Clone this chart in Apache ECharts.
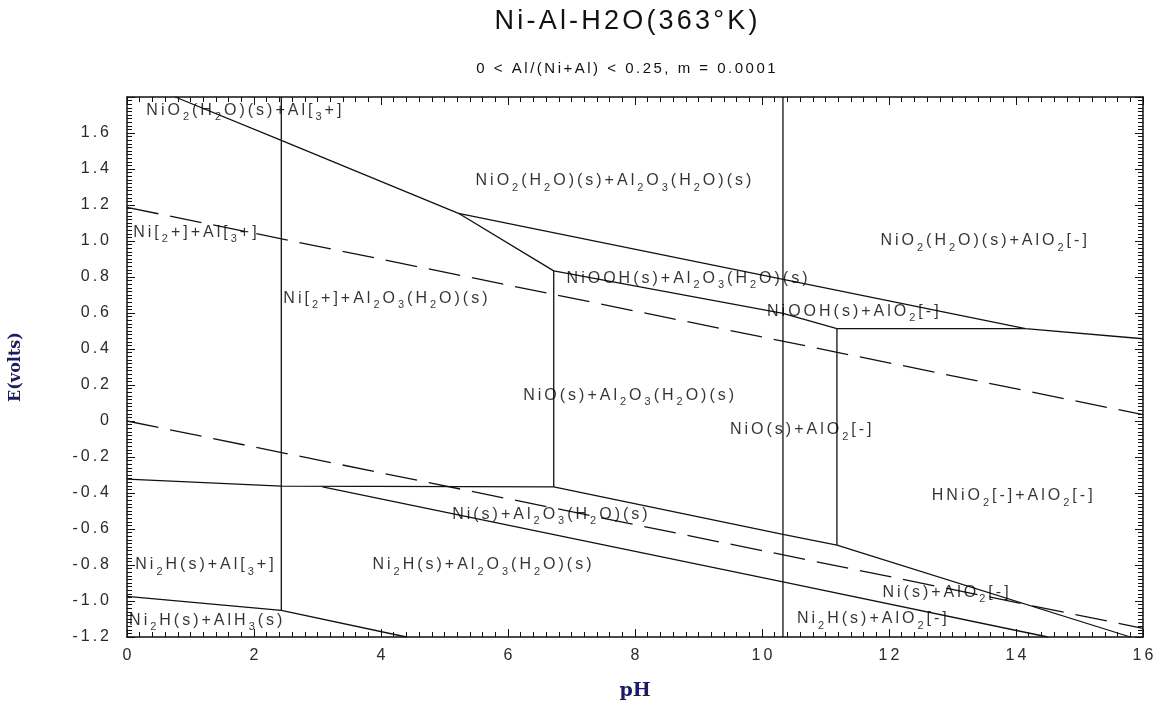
<!DOCTYPE html>
<html><head><meta charset="utf-8">
<script src="https://cdn.jsdelivr.net/npm/echarts@6/dist/echarts.min.js"></script>
<style>html,body{margin:0;padding:0;background:#fff}#c{width:1161px;height:706px}</style>
</head><body><div id="c"></div>
<script>
// ---------- DATA ----------
const titleText = 'Ni-Al-H2O(363°K)';
const subtitleText = '0 < Al/(Ni+Al) < 0.25, m = 0.0001';
const xAxisName = 'pH';
const yAxisName = 'E(volts)';
const xMin = 0, xMax = 16, xStep = 2;
const yMin = -1.2, yMax = 1.8, yStep = 0.2;

// solid phase boundaries [pH, E]
const vertAl3 = [[2.43, 1.8], [2.43, -1.05]];
const vertAlO2 = [[10.33, 1.8], [10.33, -1.2]];
const vertNiO = [[6.72, 0.834], [6.72, -0.366]];
const vertHNiO2 = [[11.18, 0.513], [11.18, -0.689]];
const lineNiO2Upper = [[0.76, 1.8], [2.43, 1.559], [5.22, 1.154], [6.72, 0.834]];
const lineNiO2Right = [[5.22, 1.154], [14.15, 0.513], [16, 0.457]];
const lineNiOOHLower = [[6.72, 0.834], [10.33, 0.598], [11.18, 0.513]];
const lineNiOOHFlat = [[11.18, 0.513], [14.15, 0.513]];
const lineNi2Plus = [[0, -0.323], [2.43, -0.362], [6.72, -0.366]];
const lineNi2H = [[3.08, -0.366], [10.33, -0.894], [14.5, -1.2]];
const lineNiLower = [[6.72, -0.366], [10.33, -0.630], [11.18, -0.689], [15.8, -1.2]];
const lineAlH3 = [[0, -0.974], [2.43, -1.052], [4.4, -1.2]];
// water stability lines (dashed)
const waterUpper = [[0, 1.187], [16, 0.035]];
const waterLower = [[0, 0], [16, -1.152]];

// region labels ('_' marks a subscript character) and their [pH, E] centres
const regionLabels = [
  'NiO_2(H_2O)(s)+Al[_3+]',
  'NiO_2(H_2O)(s)+Al_2O_3(H_2O)(s)',
  'NiO_2(H_2O)(s)+AlO_2[-]',
  'Ni[_2+]+Al[_3+]',
  'Ni[_2+]+Al_2O_3(H_2O)(s)',
  'NiOOH(s)+Al_2O_3(H_2O)(s)',
  'NiOOH(s)+AlO_2[-]',
  'NiO(s)+Al_2O_3(H_2O)(s)',
  'NiO(s)+AlO_2[-]',
  'HNiO_2[-]+AlO_2[-]',
  'Ni(s)+Al_2O_3(H_2O)(s)',
  'Ni_2H(s)+Al[_3+]',
  'Ni_2H(s)+Al_2O_3(H_2O)(s)',
  'Ni(s)+AlO_2[-]',
  'Ni_2H(s)+AlH_3(s)',
  'Ni_2H(s)+AlO_2[-]'
];
const regionPositions = [
  [1.84, 1.724], [7.66, 1.333], [13.49, 1.0], [1.07, 1.045],
  [4.07, 0.682], [8.82, 0.793], [11.43, 0.609], [7.9, 0.142],
  [10.61, -0.05], [13.94, -0.417], [6.66, -0.522], [1.22, -0.80],
  [5.59, -0.80], [12.89, -0.951], [1.24, -1.107], [11.73, -1.10]
];

// ---------- RENDERING ----------
function toRich(str, p) {
  const toks = [];
  for (let i = 0; i < str.length; i++) {
    if (str[i] === '_' && i + 1 < str.length) { toks.push([p + 's', str[i + 1]]); i++; }
    else toks.push([p + 'n', str[i]]);
  }
  if (toks.length && toks[toks.length - 1][0] === p + 'n') toks[toks.length - 1][0] = p + 'l';
  return toks.map(t => '{' + t[0] + '|' + t[1] + '}').join('');
}
function richSet(p, font, size, color, sp, lh, subSize) {
  const base = {fontFamily: font, fontSize: size, fontWeight: 'normal', color: color, lineHeight: lh, verticalAlign: 'middle'};
  const r = {};
  r[p + 'n'] = Object.assign({}, base, {padding: [0, sp, 0, 0]});
  r[p + 'l'] = Object.assign({}, base);
  r[p + 's'] = Object.assign({}, base, {fontSize: subSize, lineHeight: Math.round(lh / 2), verticalAlign: 'bottom', padding: [0, sp, 0, 0]});
  return r;
}
const FONT = '"Liberation Sans", Arial, sans-serif';
const labelRich = richSet('r', FONT, 16, '#000', 3, 24, 11);
const tickRich = richSet('t', FONT, 16, '#2a2a2a', 3, 20, 11);
const titleRich = richSet('h', FONT, 27, '#111', 3.2, 40, 18);
const subRich = richSet('u', FONT, 15, '#111', 2.5, 20, 11);

const fmtY = v => Math.abs(v) < 1e-9 ? '0' : (v > 1.7 ? '' : v.toFixed(1));
const axisCol = '#111';
function valueAxis(extra) {
  return Object.assign({
    type: 'value',
    axisLine: {show: true, onZero: false, lineStyle: {color: axisCol, width: 1.5}},
    axisTick: {show: true, inside: true, length: 8, lineStyle: {color: axisCol, width: 1}},
    minorTick: {show: true, splitNumber: 10, length: 5, lineStyle: {color: axisCol, width: 1}},
    splitLine: {show: false}, minorSplitLine: {show: false}
  }, extra);
}
const xAxisBase = {min: xMin, max: xMax, interval: xStep};
const yAxisBase = {min: yMin, max: yMax, interval: yStep};

function solid(data) {
  return {type: 'line', data: data, symbol: 'none', silent: true, animation: false,
    lineStyle: {color: '#111', width: 1.3}, z: 3};
}
function dashed(data) {
  return {type: 'line', data: data, symbol: 'none', silent: true, animation: false,
    lineStyle: {color: '#111', width: 1.3, type: [32, 12]}, z: 3};
}

const chart = echarts.init(document.getElementById('c'), null, {renderer: 'canvas'});
chart.setOption({
  backgroundColor: '#fff',
  animation: false,
  title: {
    text: toRich(titleText, 'h'), subtext: toRich(subtitleText, 'u'),
    left: 626, top: 2, textAlign: 'center', padding: 0, itemGap: 30,
    textStyle: {fontWeight: 'normal', rich: titleRich}, subtextStyle: {rich: subRich}
  },
  grid: {left: 124, right: 18, top: 97, bottom: 69, containLabel: false},
  xAxis: [
    valueAxis(Object.assign({}, xAxisBase, {position: 'bottom',
      axisLabel: {margin: 9, formatter: v => toRich(String(v), 't'), rich: tickRich},
      name: xAxisName, nameLocation: 'middle', nameGap: 45,
      nameTextStyle: {fontFamily: '"DejaVu Serif", serif', fontWeight: 'bold', fontSize: 19, color: '#1c1c66'}})),
    valueAxis(Object.assign({}, xAxisBase, {position: 'top', axisLabel: {show: false}}))
  ],
  yAxis: [
    valueAxis(Object.assign({}, yAxisBase, {position: 'left',
      axisLabel: {margin: 18, formatter: v => toRich(fmtY(v), 't'), rich: tickRich},
      name: yAxisName, nameLocation: 'middle', nameGap: 103, nameRotate: 90,
      nameTextStyle: {fontFamily: '"DejaVu Serif", serif', fontWeight: 'bold', fontSize: 16, color: '#1c1c66'}})),
    valueAxis(Object.assign({}, yAxisBase, {position: 'right', axisLabel: {show: false}}))
  ],
  series: [
    solid(vertAl3), solid(vertAlO2), solid(vertNiO), solid(vertHNiO2),
    solid(lineNiO2Upper), solid(lineNiO2Right), solid(lineNiOOHLower), solid(lineNiOOHFlat),
    solid(lineNi2Plus), solid(lineNi2H), solid(lineNiLower), solid(lineAlH3),
    dashed(waterUpper), dashed(waterLower),
    {
      type: 'scatter', symbolSize: 0, silent: true, animation: false, z: 4,
      data: regionPositions.map((p, i) => ({value: p, label: {formatter: () => toRich(regionLabels[i], 'r')}})),
      label: {show: true, position: 'inside', rich: labelRich}
    }
  ]
});
</script></body></html>
